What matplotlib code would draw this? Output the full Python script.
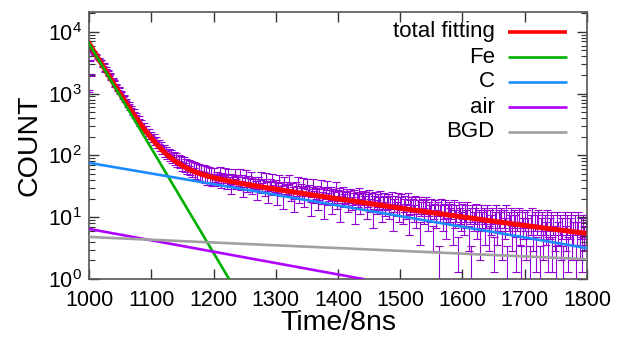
import matplotlib
matplotlib.use("Agg")
import matplotlib.pyplot as plt

plt.rcParams['font.family'] = ['Liberation Sans', 'DejaVu Sans']

time = list(range(1000, 1801, 2))
counts = [1100, 3400, 2000, 4800, 4500, 4100, 4250, 3700, 3650, 3400,
          3500, 2750, 3050, 2300, 2600, 2350, 1950, 2100, 1700, 1780,
          1650, 1300, 1420, 1130, 1250, 1010, 1080, 850, 930, 760,
          800, 640, 700, 560, 610, 480, 535, 420, 470, 365,
          410, 320, 360, 285, 320, 250, 285, 225, 255, 200,
          225, 178, 205, 160, 185, 143, 168, 130, 152, 118,
          138, 106, 128, 98, 118, 90, 112, 85, 104, 79,
          98, 74, 92, 70, 88, 64, 84, 62, 80, 58,
          76, 55, 72, 52, 70, 49, 67, 47, 65, 46,
          63, 44, 61, 42, 59, 40, 58, 39, 56, 38,
          56, 44, 38, 47, 42, 58, 36, 45, 40, 55,
          43, 34, 52, 39, 29, 44, 41, 54, 35, 42,
          38, 52, 33, 41, 26, 39, 50, 31, 40, 37,
          48, 29, 36, 39, 33, 24, 38, 35, 47, 30,
          36, 27, 45, 32, 22, 35, 33, 44, 28, 31,
          34, 20, 30, 42, 27, 32, 18, 39, 29, 31,
          28, 41, 23, 30, 26, 16, 31, 27, 38, 22,
          29, 25, 37, 19, 27, 35, 24, 28, 14, 26,
          35, 22, 25, 27, 17, 24, 34, 21, 26, 13,
          25, 33, 20, 23, 26, 15, 24, 22, 31, 18,
          23, 25, 12, 22, 26, 19, 21, 24, 16, 22,
          24, 17, 20, 23, 11, 21, 19, 25, 15, 20,
          22, 18, 21, 13, 19, 23, 16, 20, 10, 18,
          21, 15, 19, 17, 22, 12, 18, 20, 14, 17,
          19, 13, 18, 21, 9, 16, 18, 14, 20, 12,
          17, 19, 11, 16, 18, 13, 20, 8, 15, 17,
          16, 12, 18, 10, 15, 17, 6, 14, 16, 11,
          15, 17, 9, 14, 12, 16, 5, 13, 15, 10,
          14, 2, 12, 16, 9, 13, 15, 7, 12, 14,
          11, 13, 6, 15, 10, 12, 3, 14, 11, 9,
          13, 8, 12, 10, 14, 5, 11, 2, 12, 9,
          11, 13, 7, 10, 4, 12, 9, 11, 6, 10,
          12, 5, 10, 8, 11, 3, 9, 12, 6, 10,
          9, 11, 4, 10, 7, 12, 2, 9, 8, 11,
          5, 10, 8, 3, 9, 11, 6, 2, 10, 7,
          9, 4, 10, 7, 2, 8, 11, 5, 9, 3,
          8, 10, 2, 7, 9, 4, 8, 6, 10, 3,
          7, 9, 3, 8, 5, 2, 9, 6, 8, 4,
          7, 2, 9, 5, 8, 3, 7, 9, 4, 6,
          8, 2, 6, 9, 4, 7, 3, 8, 5, 6,
          7]
errors = [33, 58, 45, 69, 67, 64, 65, 61, 60, 58,
          59, 52, 55, 48, 51, 48, 44, 46, 41, 42,
          41, 36, 38, 34, 35, 32, 33, 29, 30, 28,
          28, 25, 26, 24, 25, 22, 23, 20.5, 21.7, 19.1,
          20.2, 17.9, 19.0, 16.9, 17.9, 15.8, 16.9, 15.0, 16.0, 14.1,
          15.0, 13.3, 14.3, 12.6, 13.6, 12.0, 13.0, 11.4, 12.3, 10.9,
          11.7, 10.3, 11.3, 9.9, 10.9, 9.5, 10.6, 9.2, 10.2, 8.9,
          9.9, 8.6, 9.6, 8.4, 9.4, 8.0, 9.2, 7.9, 8.9, 7.6,
          8.7, 7.4, 8.5, 7.2, 8.4, 7.0, 8.2, 6.9, 8.1, 6.8,
          7.9, 6.6, 7.8, 6.5, 7.7, 6.3, 7.6, 6.2, 7.5, 6.2,
          7.5, 6.6, 6.2, 6.9, 6.5, 7.6, 6.0, 6.7, 6.3, 7.4,
          6.6, 5.8, 7.2, 6.2, 5.4, 6.6, 6.4, 7.3, 5.9, 6.5,
          6.2, 7.2, 5.7, 6.4, 5.1, 6.2, 7.1, 5.6, 6.3, 6.1,
          6.9, 5.4, 6.0, 6.2, 5.7, 4.9, 6.2, 5.9, 6.9, 5.5,
          6.0, 5.2, 6.7, 5.7, 4.7, 5.9, 5.7, 6.6, 5.3, 5.6,
          5.8, 4.5, 5.5, 6.5, 5.2, 5.7, 4.2, 6.2, 5.4, 5.6,
          5.3, 6.4, 4.8, 5.5, 5.1, 4.0, 5.6, 5.2, 6.2, 4.7,
          5.4, 5.0, 6.1, 4.4, 5.2, 5.9, 4.9, 5.3, 3.7, 5.1,
          5.9, 4.7, 5.0, 5.2, 4.1, 4.9, 5.8, 4.6, 5.1, 3.6,
          5.0, 5.7, 4.5, 4.8, 5.1, 3.9, 4.9, 4.7, 5.6, 4.2,
          4.8, 5.0, 3.5, 4.7, 5.1, 4.4, 4.6, 4.9, 4.0, 4.7,
          4.9, 4.1, 4.5, 4.8, 3.3, 4.6, 4.4, 5.0, 3.9, 4.5,
          4.7, 4.2, 4.6, 3.6, 4.4, 4.8, 4.0, 4.5, 3.2, 4.2,
          4.6, 3.9, 4.4, 4.1, 4.7, 3.5, 4.2, 4.5, 3.7, 4.1,
          4.4, 3.6, 4.2, 4.6, 3.0, 4.0, 4.2, 3.7, 4.5, 3.5,
          4.1, 4.4, 3.3, 4.0, 4.2, 3.6, 4.5, 2.8, 3.9, 4.1,
          4.0, 3.5, 4.2, 3.2, 3.9, 4.1, 2.4, 3.7, 4.0, 3.3,
          3.9, 4.1, 3.0, 3.7, 3.5, 4.0, 2.2, 3.6, 3.9, 3.2,
          3.7, 1.4, 3.5, 4.0, 3.0, 3.6, 3.9, 2.6, 3.5, 3.7,
          3.3, 3.6, 2.4, 3.9, 3.2, 3.5, 1.7, 3.7, 3.3, 3.0,
          3.6, 2.8, 3.5, 3.2, 3.7, 2.2, 3.3, 1.4, 3.5, 3.0,
          3.3, 3.6, 2.6, 3.2, 2.0, 3.5, 3.0, 3.3, 2.4, 3.2,
          3.5, 2.2, 3.2, 2.8, 3.3, 1.7, 3.0, 3.5, 2.4, 3.2,
          3.0, 3.3, 2.0, 3.2, 2.6, 3.5, 1.4, 3.0, 2.8, 3.3,
          2.2, 3.2, 2.8, 1.7, 3.0, 3.3, 2.4, 1.4, 3.2, 2.6,
          3.0, 2.0, 3.2, 2.6, 1.4, 2.8, 3.3, 2.2, 3.0, 1.7,
          2.8, 3.2, 1.4, 2.6, 3.0, 2.0, 2.8, 2.4, 3.2, 1.7,
          2.6, 3.0, 1.7, 2.8, 2.2, 1.4, 3.0, 2.4, 2.8, 2.0,
          2.6, 1.4, 3.0, 2.2, 2.8, 1.7, 2.6, 3.0, 2.0, 2.4,
          2.8, 1.4, 2.4, 3.0, 2.0, 2.6, 1.7, 2.8, 2.2, 2.4,
          2.6]

# fitted curves
fit_time = [1000, 1010, 1020, 1030, 1040, 1050, 1060, 1070, 1080, 1090,
            1100, 1110, 1120, 1130, 1140, 1150, 1160, 1170, 1180, 1190,
            1200, 1225, 1250, 1275, 1300, 1350, 1400, 1450, 1500, 1550,
            1600, 1650, 1700, 1750, 1800]
fit_total = [6544, 4458, 3043, 2084, 1434, 992, 692, 488, 350, 255,
             191, 146, 115, 94, 79, 68, 60, 54, 50, 46.5,
             43.6, 38.5, 34.4, 31.2, 28.4, 23.7, 19.85, 16.7, 14.0, 11.9,
             10.1, 8.6, 7.35, 6.32, 5.47]
fe_time = [1000, 1225]
fe_fit = [6457, 1.0]
c_time = [1000, 1800]
c_fit = [75.9, 3.16]
air_time = [1000, 1440]
air_fit = [6.46, 1.0]
bgd_time = [1000, 1800]
bgd_fit = [4.79, 2.09]

labels = ['total fitting', 'Fe', 'C', 'air', 'BGD']
colors = ['#ff0000', '#00b000', '#1a8cff', '#b000ff', '#a0a0a0']
widths = [3.6, 1.9, 1.9, 1.9, 1.9]

fig = plt.figure(figsize=(6.22, 3.38), dpi=100)
ax = fig.add_axes([0.1431, 0.1746, 0.8006, 0.790])

ax.errorbar(time, counts, yerr=errors, fmt='none', ecolor='#9400d3',
            elinewidth=0.8, capsize=3, capthick=0.8, zorder=1)

ax.plot(fit_time, fit_total, color=colors[0], lw=widths[0], zorder=2)
ax.plot(fe_time, fe_fit, color=colors[1], lw=widths[1], zorder=3)
ax.plot(c_time, c_fit, color=colors[2], lw=widths[2], zorder=3)
ax.plot(air_time, air_fit, color=colors[3], lw=widths[3], zorder=3)
ax.plot(bgd_time, bgd_fit, color=colors[4], lw=widths[4], zorder=3)

ax.set_yscale('log')
ax.set_xlim(1000, 1800)
ax.set_ylim(1, 2.1e4)
ax.set_xticks(range(1000, 1801, 100))

for side in ax.spines.values():
    side.set_color('#555555')
    side.set_linewidth(1.2)
ax.tick_params(which='both', direction='in', top=True, right=True,
               color='#333333', labelsize=15.5)
ax.tick_params(which='major', length=7, width=1)
ax.tick_params(which='minor', length=4, width=0.8)
ax.tick_params(axis='x', pad=8)
ax.tick_params(axis='y', pad=5)

ax.set_xlabel('Time/8ns', fontsize=20.5, labelpad=-1)
ax.set_ylabel('COUNT', fontsize=20.5, labelpad=4)

# gnuplot-style key: text right aligned, sample line on the right
key_y = [0.925, 0.831, 0.738, 0.644, 0.551]
for lab, col, lw, yy in zip(labels, colors, widths, key_y):
    ax.text(0.815, yy, lab, transform=ax.transAxes, ha='right', va='center',
            fontsize=16)
    ax.plot([0.841, 0.960], [yy, yy], transform=ax.transAxes, color=col,
            lw=min(lw, 2.6), solid_capstyle='butt')

fig.savefig('out.png', dpi=100)
